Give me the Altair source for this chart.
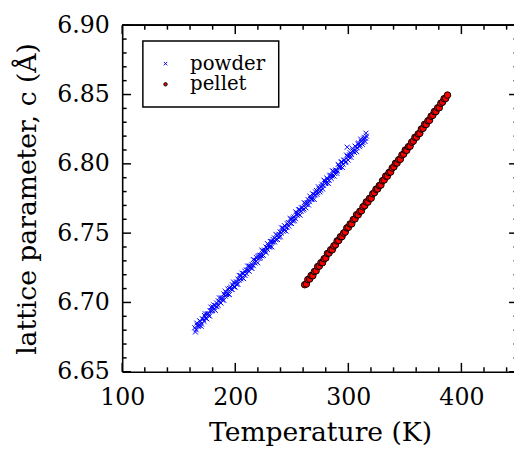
import altair as alt
import pandas as pd

# ---------------- data ----------------
powder_T = [164.2, 165.4, 166.5, 167.9, 169.1, 170.2, 171.6, 172.8, 173.9, 175.3, 176.4, 177.7,
            178.9, 180.1, 181.4, 182.6, 183.8, 185.1, 186.3, 187.5, 188.8, 190.0, 191.2, 192.5,
            193.7, 195.0, 196.2, 197.4, 198.7, 199.9, 201.2, 202.4, 203.6, 204.9, 206.1, 207.4,
            208.6, 209.8, 211.1, 212.3, 213.6, 214.8, 216.0, 217.3, 218.5, 219.8, 221.0, 222.2,
            223.5, 224.7, 226.0, 227.2, 228.4, 229.7, 230.9, 232.2, 233.4, 234.6, 235.9, 237.1,
            238.4, 239.6, 240.8, 242.1, 243.3, 244.6, 245.8, 247.0, 248.3, 249.5, 250.8, 252.0,
            253.2, 254.5, 255.7, 257.0, 258.2, 259.4, 260.7, 261.9, 263.2, 264.4, 265.6, 266.9,
            268.1, 269.4, 270.6, 271.8, 273.1, 274.3, 275.6, 276.8, 278.0, 279.3, 280.5, 281.8,
            283.0, 284.2, 285.5, 286.7, 288.0, 289.2, 290.4, 291.7, 292.9, 294.2, 295.4, 296.6,
            297.9, 299.1, 300.4, 301.6, 302.8, 304.1, 305.3, 306.6, 307.8, 309.0, 310.3, 311.5,
            312.8, 314.0, 315.2, 316.0, 299.0,
            164.8, 166.0, 167.3, 168.5, 169.8, 171.0, 172.3, 173.5, 174.8, 176.0, 177.3, 178.5,
            179.8, 181.0, 182.3, 183.5, 184.8, 186.0, 187.3, 188.5, 189.8, 191.0, 192.3, 193.5,
            194.8, 196.0, 197.3, 198.5, 199.8, 201.0, 202.3, 203.5, 204.8, 206.0, 207.3, 208.5,
            209.8, 211.0, 212.3, 213.5, 214.8, 216.0, 217.3, 218.5, 219.8, 221.0, 222.3, 223.5,
            224.8, 226.0, 227.3, 228.5, 229.8, 231.0, 232.3, 233.5, 234.8, 236.0, 237.3, 238.5,
            239.8, 241.0, 242.3, 243.5, 244.8, 246.0, 247.3, 248.5, 249.8, 251.0, 252.3, 253.5,
            254.8, 256.0, 257.3, 258.5, 259.8, 261.0, 262.3, 263.5, 264.8, 266.0, 267.3, 268.5,
            269.8, 271.0, 272.3, 273.5, 274.8, 276.0, 277.3, 278.5, 279.8, 281.0, 282.3, 283.5,
            284.8, 286.0, 287.3, 288.5, 289.8, 291.0, 292.3, 293.5, 294.8, 296.0, 297.3, 298.5,
            299.8, 301.0, 302.3, 303.5, 304.8, 306.0, 307.3, 308.5, 309.8, 311.0, 312.3, 313.5,
            314.8, 315.6]
powder_c = [6.6817, 6.6803, 6.6836, 6.6835, 6.6864, 6.6844, 6.6879, 6.6905, 6.6886, 6.6916, 6.6905, 6.6941,
            6.6938, 6.6968, 6.6952, 6.6977, 6.6969, 6.7011, 6.7004, 6.7029, 6.7018, 6.7061, 6.7046, 6.7071,
            6.7061, 6.7101, 6.7096, 6.7128, 6.7112, 6.7137, 6.7131, 6.7167, 6.7161, 6.7194, 6.7179, 6.7209,
            6.7195, 6.7234, 6.7233, 6.7262, 6.7249, 6.7274, 6.7265, 6.7305, 6.7298, 6.7334, 6.7318, 6.7340,
            6.7337, 6.7372, 6.7368, 6.7400, 6.7383, 6.7414, 6.7401, 6.7440, 6.7437, 6.7466, 6.7453, 6.7480,
            6.7471, 6.7509, 6.7501, 6.7537, 6.7521, 6.7546, 6.7540, 6.7576, 6.7571, 6.7603, 6.7588, 6.7617,
            6.7604, 6.7643, 6.7641, 6.7670, 6.7657, 6.7683, 6.7675, 6.7714, 6.7707, 6.7742, 6.7727, 6.7750,
            6.7745, 6.7780, 6.7776, 6.7808, 6.7792, 6.7821, 6.7810, 6.7849, 6.7845, 6.7875, 6.7862, 6.7889,
            6.7880, 6.7918, 6.7912, 6.7946, 6.7930, 6.7955, 6.7949, 6.7985, 6.7981, 6.8014, 6.7997, 6.8027,
            6.8015, 6.8054, 6.8050, 6.8080, 6.8066, 6.8093, 6.8083, 6.8123, 6.8116, 6.8150, 6.8134, 6.8160,
            6.8155, 6.8189, 6.8185, 6.8200, 6.8120,
            6.6787, 6.6851, 6.6827, 6.6867, 6.6828, 6.6881, 6.6864, 6.6918, 6.6882, 6.6920, 6.6902, 6.6966,
            6.6942, 6.6982, 6.6943, 6.6996, 6.6979, 6.7033, 6.6996, 6.7034, 6.7016, 6.7080, 6.7056, 6.7096,
            6.7057, 6.7110, 6.7093, 6.7147, 6.7111, 6.7149, 6.7131, 6.7195, 6.7171, 6.7211, 6.7172, 6.7225,
            6.7208, 6.7262, 6.7225, 6.7263, 6.7245, 6.7309, 6.7285, 6.7325, 6.7286, 6.7339, 6.7322, 6.7376,
            6.7340, 6.7378, 6.7360, 6.7424, 6.7400, 6.7440, 6.7401, 6.7454, 6.7437, 6.7491, 6.7454, 6.7492,
            6.7474, 6.7538, 6.7514, 6.7554, 6.7515, 6.7568, 6.7551, 6.7605, 6.7569, 6.7607, 6.7589, 6.7653,
            6.7629, 6.7669, 6.7630, 6.7683, 6.7666, 6.7720, 6.7683, 6.7721, 6.7703, 6.7767, 6.7743, 6.7783,
            6.7744, 6.7797, 6.7780, 6.7834, 6.7798, 6.7836, 6.7818, 6.7882, 6.7858, 6.7898, 6.7859, 6.7912,
            6.7895, 6.7949, 6.7912, 6.7950, 6.7932, 6.7996, 6.7972, 6.8012, 6.7973, 6.8026, 6.8009, 6.8063,
            6.8027, 6.8065, 6.8047, 6.8111, 6.8087, 6.8127, 6.8088, 6.8141, 6.8124, 6.8178, 6.8141, 6.8179,
            6.8161, 6.8221]

pellet_T = [261.4, 262.9, 264.2, 265.8, 267.1, 268.6, 270.0, 271.5, 272.9, 274.3, 275.8, 277.2,
            278.6, 280.1, 281.5, 282.9, 284.4, 285.8, 287.2, 288.7, 290.1, 291.5, 293.0, 294.4,
            295.8, 297.3, 298.7, 300.1, 301.6, 303.0, 304.4, 305.9, 307.3, 308.7, 310.2, 311.6,
            313.0, 314.5, 315.9, 317.3, 318.8, 320.2, 321.6, 323.1, 324.5, 325.9, 327.4, 328.8,
            330.2, 331.7, 333.1, 334.5, 336.0, 337.4, 338.8, 340.3, 341.7, 343.1, 344.6, 346.0,
            347.4, 348.9, 350.3, 351.7, 353.2, 354.6, 356.0, 357.5, 358.9, 360.3, 361.8, 363.2,
            364.6, 366.1, 367.5, 368.9, 370.4, 371.8, 373.2, 374.7, 376.1, 377.5, 379.0, 380.4,
            381.8, 383.3, 384.7, 386.1, 387.7]
pellet_c = [6.7128, 6.7133, 6.7165, 6.7169, 6.7194, 6.7193, 6.7223, 6.7228, 6.7259, 6.7262, 6.7287, 6.7287,
            6.7315, 6.7321, 6.7353, 6.7356, 6.7380, 6.7380, 6.7408, 6.7416, 6.7444, 6.7447, 6.7474, 6.7475,
            6.7500, 6.7508, 6.7538, 6.7542, 6.7566, 6.7567, 6.7598, 6.7603, 6.7633, 6.7632, 6.7657, 6.7661,
            6.7690, 6.7698, 6.7725, 6.7724, 6.7751, 6.7752, 6.7784, 6.7792, 6.7817, 6.7819, 6.7843, 6.7847,
            6.7878, 6.7884, 6.7912, 6.7911, 6.7938, 6.7941, 6.7970, 6.7978, 6.8004, 6.8006, 6.8030, 6.8033,
            6.8064, 6.8070, 6.8099, 6.8098, 6.8124, 6.8127, 6.8156, 6.8164, 6.8191, 6.8192, 6.8216, 6.8220,
            6.8251, 6.8256, 6.8285, 6.8284, 6.8311, 6.8314, 6.8343, 6.8350, 6.8377, 6.8377, 6.8404, 6.8405,
            6.8437, 6.8445, 6.8470, 6.8472, 6.8496]

samples = ["powder", "pellet"]
x_major = [100, 200, 300, 400]
x_minor = [120, 140, 160, 180, 220, 240, 260, 280, 320, 340, 360, 380, 420, 440]
y_major = [6.65, 6.70, 6.75, 6.80, 6.85, 6.90]
y_minor = [6.66, 6.67, 6.68, 6.69, 6.71, 6.72, 6.73, 6.74, 6.76, 6.77, 6.78, 6.79,
           6.81, 6.82, 6.83, 6.84, 6.86, 6.87, 6.88, 6.89]
x_title = "Temperature (K)"
y_title = "lattice parameter, c (Å)"
x_lo, x_hi = 100, 450
y_lo, y_hi = 6.65, 6.90

powder = pd.DataFrame({"T": powder_T, "c": powder_c, "sample": "powder"})
pellet = pd.DataFrame({"T": pellet_T, "c": pellet_c, "sample": "pellet"})
xmaj = pd.DataFrame({"v": x_major})
xmin = pd.DataFrame({"v": x_minor})
ymaj = pd.DataFrame({"v": y_major})
ymin = pd.DataFrame({"v": y_minor})

# ---------------- layout ----------------
W = 398          # visible plot width (the right spine falls just outside the page)
XR = 402         # pixel range of the x scale (100..450 K)
H = 352
FONT = "DejaVu Serif"
XPATH = "M-1,-1L1,1M-1,1L1,-1"
MAJ, MIN, TW = 9, 4.5, 1.5

xscale = alt.Scale(domain=[x_lo, x_hi], range=[0, XR], nice=False, zero=False)
yscale = alt.Scale(domain=[y_lo, y_hi], nice=False, zero=False)

ax_x_main = alt.Axis(orient="bottom", values=x_major, ticks=False, tickSize=0, labelPadding=14,
                     domain=True, domainColor="black", domainWidth=1.6, grid=False,
                     title=x_title, titlePadding=11, format="d", labelFlush=False)
ax_y_main = alt.Axis(orient="left", values=y_major, format=".2f", ticks=False, tickSize=0,
                     labelPadding=13, domain=True, domainColor="black", domainWidth=1.6,
                     grid=False, title=y_title, titlePadding=16)

fill_s = alt.Scale(domain=samples, range=["#0000ff", "#ff0000"])
stroke_s = alt.Scale(domain=samples, range=["#0000ff", "#000000"])
shape_s = alt.Scale(domain=samples, range=[XPATH, "circle"])
legend = alt.Legend(title=None, orient="none", legendX=21, legendY=16)

def series(df, size, xa, ya):
    return alt.Chart(df).mark_point(size=size, strokeWidth=1, opacity=1).encode(
        x=alt.X("T:Q", scale=xscale, axis=xa),
        y=alt.Y("c:Q", scale=yscale, axis=ya),
        fill=alt.Fill("sample:N", scale=fill_s, legend=legend),
        stroke=alt.Stroke("sample:N", scale=stroke_s, legend=legend),
        shape=alt.Shape("sample:N", scale=shape_s, legend=legend),
    )

def xticks(df, at, size, off):
    return alt.Chart(df).mark_tick(orient="vertical", size=size, thickness=TW,
                                   color="black", opacity=1, yOffset=off).encode(
        x=alt.X("v:Q", scale=xscale, axis=None),
        y=alt.Y(datum=at, scale=yscale, axis=None),
    )

def yticks(df, at, size, off):
    return alt.Chart(df).mark_tick(orient="horizontal", size=size, thickness=TW,
                                   color="black", opacity=1, xOffset=off).encode(
        x=alt.X(datum=at, scale=xscale, axis=None),
        y=alt.Y("v:Q", scale=yscale, axis=None),
    )

top_spine = alt.Chart(xmaj).mark_rule(color="black", strokeWidth=1.6).encode(
    x=alt.X(datum=x_lo, scale=xscale, axis=None),
    x2=alt.X2(datum=x_hi),
    y=alt.Y(datum=y_hi, scale=yscale, axis=None),
)

layers = [
    series(powder, 26, ax_x_main, ax_y_main),
    series(pellet, 44, None, None),
    top_spine,
    xticks(xmaj, y_lo, MAJ, -MAJ / 2), xticks(xmin, y_lo, MIN, -MIN / 2),
    xticks(xmaj, y_hi, MAJ, MAJ / 2), xticks(xmin, y_hi, MIN, MIN / 2),
    yticks(ymaj, x_lo, MAJ, MAJ / 2), yticks(ymin, x_lo, MIN, MIN / 2),
    yticks(ymaj, x_hi, MAJ, -MAJ / 2), yticks(ymin, x_hi, MIN, -MIN / 2),
]

chart = (
    alt.layer(*layers)
    .resolve_axis(x="independent", y="independent")
    .properties(
        width=W, height=H,
        autosize=alt.AutoSizeParams(type="none"),
        padding={"left": 116, "top": 14, "right": 0, "bottom": 77},
    )
    .configure(font=FONT)
    .configure_view(stroke=None)
    .configure_axis(labelFont=FONT, labelFontSize=24, labelColor="black",
                    titleFont=FONT, titleFontSize=27, titleFontWeight="normal", titleColor="black")
    .configure_legend(labelFont=FONT, labelFontSize=20, labelColor="black",
                      strokeColor="black", strokeWidth=1.5, fillColor="white", padding=13,
                      symbolSize=12, symbolStrokeWidth=1, symbolOffset=0, labelOffset=15,
                      rowPadding=1, cornerRadius=0)
)

chart.save("out.html", embed_options={"renderer": "svg", "actions": False})
